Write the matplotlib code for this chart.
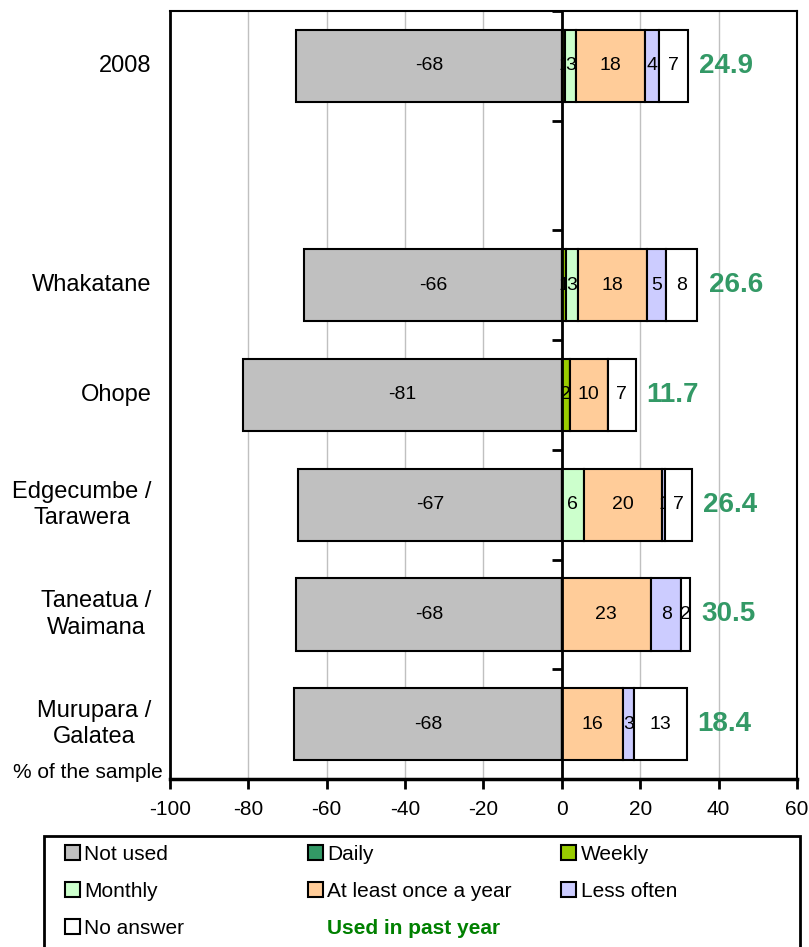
import matplotlib
matplotlib.use("Agg")
import matplotlib.pyplot as plt
import matplotlib.transforms as mtransforms
from matplotlib.patches import Patch, Rectangle
import numpy as np

plt.rcParams['font.family'] = 'Liberation Sans'
plt.rcParams['font.size'] = 15
plt.rcParams['axes.unicode_minus'] = False

# data (% of sample)
categories = ["2008", "", "Whakatane", "Ohope", "Edgecumbe /\nTarawera",
              "Taneatua /\nWaimana", "Murupara /\nGalatea"]
not_used = [-67.9, 0, -65.8, -81.4, -67.3, -67.9, -68.4]
daily = [0, 0, 0, 0, 0, 0, 0]
weekly = [0.9, 0, 1.0, 2.0, 0, 0, 0]
monthly = [2.7, 0, 3.0, 0, 5.6, 0, 0]
yearly = [17.7, 0, 17.6, 9.7, 20.0, 22.7, 15.6]
less_often = [3.6, 0, 5.0, 0, 0.8, 7.8, 2.8]
no_answer = [7.3, 0, 8.0, 7.1, 6.7, 2.2, 13.4]
used_past_year = ["24.9", "", "26.6", "11.7", "26.4", "30.5", "18.4"]

series = [
    ("Daily", daily, "#339966"),
    ("Weekly", weekly, "#99CC00"),
    ("Monthly", monthly, "#CCFFCC"),
    ("At least once a year", yearly, "#FFCC99"),
    ("Less often", less_often, "#CCCCFF"),
    ("No answer", no_answer, "#FFFFFF"),
]
not_used_color = "#C0C0C0"

fig = plt.figure(figsize=(8.09, 9.47), dpi=100)
ax = fig.add_axes([0.2101, 0.1774, 0.7751, 0.8110])

y = np.arange(len(categories))
bar_h = 0.66
show = [c != "" for c in categories]
yy = y[show]

def fmt_labels(vals):
    return ["" if v == 0 else "%.0f" % v for v in vals]

nu = np.array(not_used)[show]
bars = ax.barh(yy, nu, height=bar_h, color=not_used_color, edgecolor="black",
               linewidth=1.5, zorder=2)
ax.bar_label(bars, labels=fmt_labels(nu), label_type="center", fontsize=14,
             zorder=2.05)

# each segment (and its label) sits above the one before, so thin labels get
# partly covered like in the original
left = np.zeros(len(yy))
for i, (name, vals, col) in enumerate(series):
    z = 2.1 + i * 0.1
    v = np.array(vals, dtype=float)[show]
    b = ax.barh(yy, v, left=left, height=bar_h, color=col, edgecolor="black",
                linewidth=1.5, zorder=z)
    ax.bar_label(b, labels=fmt_labels(v), label_type="center", fontsize=14,
                 zorder=z + 0.05)
    left = left + v

# used in past year totals
for yi, tot, lab in zip(yy, left, np.array(used_past_year)[show]):
    ax.annotate(lab, (tot, yi), xytext=(8, 0), textcoords="offset points",
                ha="left", va="center", color="#339966", fontsize=20,
                fontweight="bold")

ax.set_xlim(-100, 60)
ax.set_ylim(len(categories) - 0.5, -0.5)
ax.set_xticks(np.arange(-100, 61, 20))
ax.xaxis.grid(True, color="#C0C0C0", linewidth=1)
ax.set_axisbelow(True)

# zero line carries the category ticks
ax.spines["left"].set_position(("data", 0))
ax.spines["left"].set_linewidth(2)
ax.spines["left"].set_zorder(5)
ax.set_yticks(np.arange(-0.5, len(categories)))
ax.tick_params(axis="y", direction="out", length=7, width=2, labelleft=False)
ax.spines["bottom"].set_linewidth(2.5)
ax.spines["top"].set_linewidth(1.5)
ax.spines["right"].set_linewidth(1.5)
ax.tick_params(axis="x", direction="out", length=7, width=2, labelsize=15, pad=8)
ax.axvline(-100, color="black", linewidth=2, clip_on=False, zorder=5)

trans = mtransforms.blended_transform_factory(ax.transAxes, ax.transData)
for yi, c in zip(y, categories):
    if c:
        ax.text(-0.029, yi, c, transform=trans, ha="right", va="center",
                multialignment="center", fontsize=17, linespacing=1.25)
ax.text(-0.011, 0.008, "% of the sample", transform=ax.transAxes,
        ha="right", va="center", fontsize=15)

# legend in a box, three columns placed by hand
fig.patches.append(Rectangle((0.054, -0.05), 0.935, 0.167, transform=fig.transFigure,
                             facecolor="white", edgecolor="black", linewidth=2))

def sq(col):
    return Patch(facecolor=col, edgecolor="black", linewidth=1.5)

blank = Patch(facecolor="none", edgecolor="none")
columns = [
    ([sq(not_used_color), sq("#CCFFCC"), sq("#FFFFFF")],
     ["Not used", "Monthly", "No answer"], 0.080),
    ([sq("#339966"), sq("#FFCC99"), blank],
     ["Daily", "At least once a year", "Used in past year"], 0.381),
    ([sq("#99CC00"), sq("#CCCCFF")],
     ["Weekly", "Less often"], 0.694),
]
for handles, labels, x0 in columns:
    leg = fig.legend(handles, labels, loc="upper left", bbox_to_anchor=(x0, 0.108),
                     frameon=False, fontsize=15, handlelength=0.72, handleheight=0.72,
                     handletextpad=0.2, labelspacing=0.87, borderpad=0,
                     borderaxespad=0)
    for t in leg.get_texts():
        if t.get_text() == "Used in past year":
            t.set_color("#008000")
            t.set_fontweight("bold")

fig.savefig("out.png", dpi=100)
